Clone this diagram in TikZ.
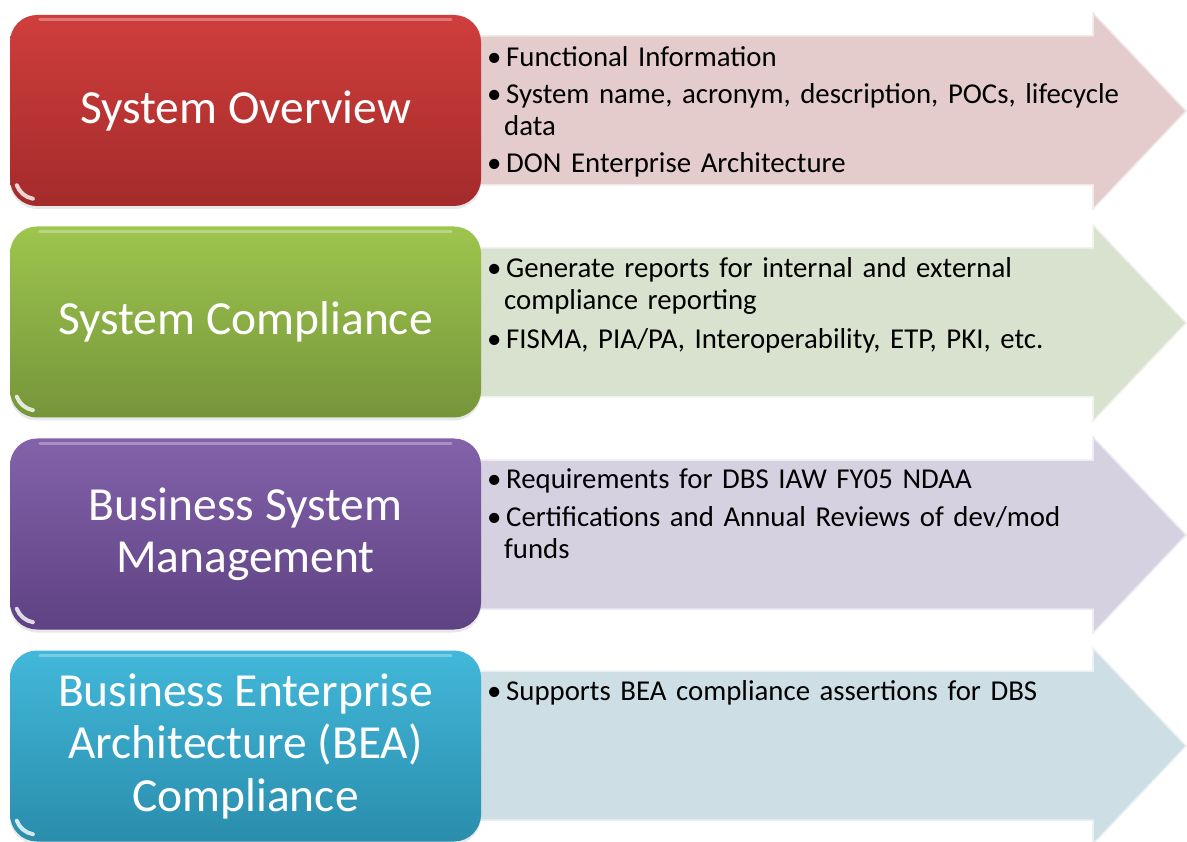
\documentclass[tikz,border=0pt]{standalone}
\usepackage{fontspec}
\setmainfont{Carlito}
\usetikzlibrary{positioning,shadows}

% fills of the four rows
\definecolor{redtop}{RGB}{207,62,60}
\definecolor{redbot}{RGB}{164,43,43}
\definecolor{greentop}{RGB}{158,197,78}
\definecolor{greenbot}{RGB}{118,149,58}
\definecolor{purpletop}{RGB}{131,98,170}
\definecolor{purplebot}{RGB}{94,66,131}
\definecolor{bluetop}{RGB}{66,184,218}
\definecolor{bluebot}{RGB}{42,141,172}
\definecolor{redpale}{RGB}{228,204,205}
\definecolor{greenpale}{RGB}{217,226,206}
\definecolor{purplepale}{RGB}{214,209,225}
\definecolor{bluepale}{RGB}{206,222,229}

% one bullet paragraph, later lines hang under the text
\newcommand{\bitem}[1]{\hangindent=17pt\hangafter=1\noindent
  \makebox[19pt][l]{\textbullet}#1\par}

\tikzset{
  titlebox/.style={rounded corners=27pt, minimum width=471pt, minimum height=191pt,
    top color=#1top, bottom color=#1bot,
    drop shadow={opacity=0.18, shadow xshift=0pt, shadow yshift=-3pt},
    text=white, align=center, font=\fontsize{47.5}{52.5}\selectfont},
  gloss/.style={white, opacity=0.3, line width=3pt, line cap=round},
  glint/.style={white, opacity=0.8, line width=4pt, line cap=round},
  bullets/.style={anchor=base west, inner sep=0pt, text width=690pt,
    font=\fontsize{28.8}{32}\selectfont},
  bigarrow/.style={fill=#1pale, draw=white!55!#1pale, line width=1.5pt}
}

\begin{document}
\begin{tikzpicture}[x=1pt,y=-1pt]
  \useasboundingbox (0,0) rectangle (1187,842);

  % Arrows behind the boxes
  \foreach \y/\c in {111/red, 323/green, 535/purple, 746/blue} {
    \draw[bigarrow=\c] (470,\y-75) -- (1093,\y-75) -- (1093,\y-98)
      -- (1186,\y) -- (1093,\y+98) -- (1093,\y+74) -- (470,\y+74) -- cycle;
  }

  % Boxes
  \node[titlebox=red] (overview) at (245.5,110.5) {System Overview};
  \node[titlebox=green] (compliance) at (245.5,322) {System Compliance};
  \node[titlebox=purple] (management) at (245.5,534) {Business System\\Management};
  \node[titlebox=blue] (bea) at (245.5,746) {Business Enterprise\\Architecture (BEA)\\Compliance};

  % Shine on the boxes
  \foreach \n in {overview, compliance, management, bea} {
    \draw[gloss] ([xshift=30pt,yshift=-5pt]\n.north west) -- ([xshift=-30pt,yshift=-5pt]\n.north east);
    \draw[glint] ([xshift=7pt,yshift=21pt]\n.south west) arc[start angle=200, end angle=260, radius=21pt];
  }

  % Bullet texts
  \node[bullets] (overviewtext) at (487,67) {\raggedright\parskip=5pt
    \bitem{Functional Information}
    \bitem{System name, acronym, description, POCs, lifecycle\newline data}
    \bitem{DON Enterprise Architecture}};
  \node[bullets] (compliancetext) at (487,278) {\raggedright\parskip=7pt
    \bitem{Generate reports for internal and external\newline compliance reporting}
    \bitem{FISMA, PIA/PA, Interoperability, ETP, PKI, etc.}};
  \node[bullets] (managementtext) at (487,489) {\raggedright\parskip=6pt
    \bitem{Requirements for DBS IAW FY05 NDAA}
    \bitem{Certifications and Annual Reviews of dev/mod\newline funds}};
  \node[bullets] (beatext) at (487,700) {\raggedright
    \bitem{Supports BEA compliance assertions for DBS}};
\end{tikzpicture}
\end{document}
